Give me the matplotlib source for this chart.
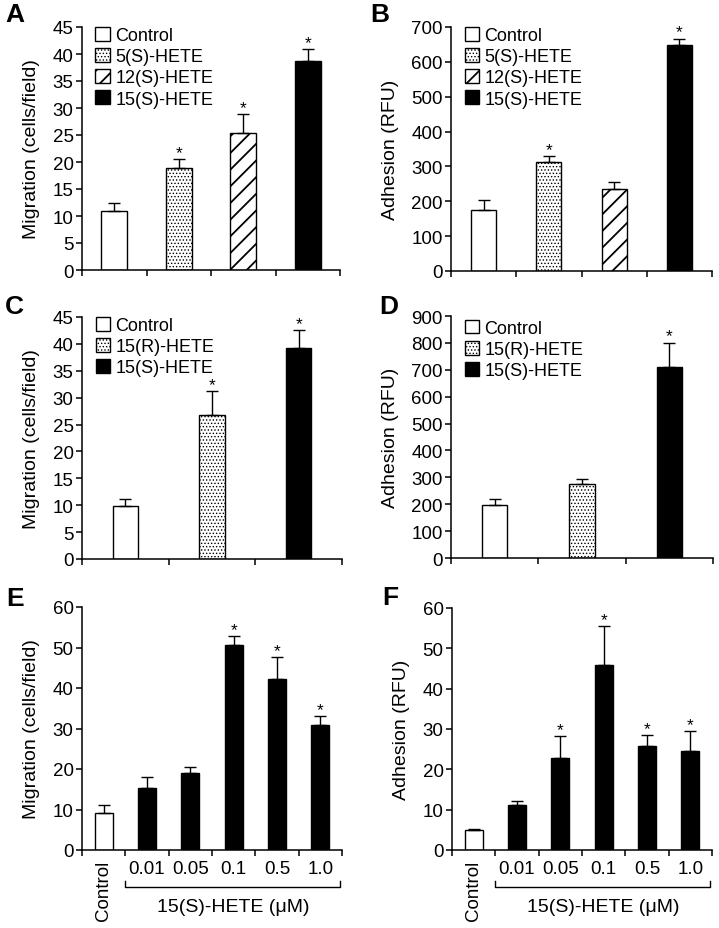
import numpy as np
import matplotlib
matplotlib.use('Agg')
import matplotlib.pyplot as plt
import matplotlib.transforms as mtransforms
from matplotlib.patches import Patch

plt.rcParams['font.family'] = ['Liberation Sans', 'DejaVu Sans']
plt.rcParams['hatch.linewidth'] = 1.0

# panels A / B
ab_labels = ['Control', '5(S)-HETE', '12(S)-HETE', '15(S)-HETE']
a_mig = [10.9, 18.9, 25.4, 38.7]
a_err = [1.45, 1.7, 3.4, 2.2]
a_sig = [False, True, True, True]
b_adh = [175, 313, 234, 649]
b_err = [28, 16, 21, 18]
b_sig = [False, True, False, True]

# panels C / D
cd_labels = ['Control', '15(R)-HETE', '15(S)-HETE']
c_mig = [9.9, 26.7, 39.3]
c_err = [1.3, 4.5, 3.3]
c_sig = [False, True, True]
d_adh = [198, 274, 712]
d_err = [20, 18, 89]
d_sig = [False, False, True]

# panels E / F
doses = ['Control', '0.01', '0.05', '0.1', '0.5', '1.0']
e_mig = [9.1, 15.2, 19.0, 50.6, 42.3, 30.9]
e_err = [1.9, 2.9, 1.5, 2.3, 5.3, 2.2]
e_sig = [False, False, False, True, True, True]
f_adh = [4.9, 11.2, 22.8, 45.9, 25.7, 24.6]
f_err = [0.4, 1.0, 5.4, 9.6, 2.7, 4.9]
f_sig = [False, False, True, True, True, True]

styles = {
    'Control': dict(facecolor='white', hatch=None, hlw=1.0),
    '5(S)-HETE': dict(facecolor='white', hatch='.....', hlw=0.6),
    '15(R)-HETE': dict(facecolor='white', hatch='.....', hlw=0.6),
    '12(S)-HETE': dict(facecolor='white', hatch='//', hlw=1.3),
    '15(S)-HETE': dict(facecolor='black', hatch=None, hlw=1.0),
}

W, H = 719, 929
FS = 13.5


def set_hlw(p, lw):
    # per-patch hatch width where the installed matplotlib supports it
    if hasattr(p, 'set_hatch_linewidth'):
        p.set_hatch_linewidth(lw)


def make_ax(left, top, right, bottom):
    return plt.gcf().add_axes([left / W, 1 - bottom / H, (right - left) / W, (bottom - top) / H])


def style_ax(ax, n, ymax, step, ylabel):
    ax.set_xlim(-0.5, n - 0.5)
    ax.set_ylim(0, ymax)
    ax.set_yticks(np.arange(0, ymax + step / 2, step))
    for s in ['top', 'right']:
        ax.spines[s].set_visible(False)
    for s in ['left', 'bottom']:
        ax.spines[s].set_linewidth(1.1)
    ax.tick_params(axis='y', direction='out', length=4, width=1.1, labelsize=FS, pad=2)
    ax.set_xticks(np.arange(-0.5, n, 1.0))
    ax.set_xticklabels([])
    ax.tick_params(axis='x', direction='out', length=4, width=1.1)
    ax.set_ylabel(ylabel, fontsize=14, labelpad=9)


def draw_bars(ax, vals, errs, sig, width, fills):
    x = np.arange(len(vals))
    for i in range(len(vals)):
        st = fills[i]
        bc = ax.bar(x[i], vals[i], width=width, facecolor=st['facecolor'], edgecolor='black',
                    hatch=st['hatch'], linewidth=1.0, zorder=2)
        for p in bc:
            set_hlw(p, st['hlw'])
    ax.errorbar(x, vals, yerr=[np.zeros(len(vals)), errs], fmt='none', ecolor='black',
                elinewidth=1.0, capsize=4, capthick=1.0, zorder=3)
    for i in range(len(vals)):
        if sig[i]:
            ax.annotate('*', (x[i], vals[i] + errs[i]), xytext=(0, 1.5), textcoords='offset points',
                        ha='center', va='baseline', fontsize=12.5)


def add_legend(ax, names, y0=1.0):
    handles = []
    for n in names:
        p = Patch(facecolor=styles[n]['facecolor'], edgecolor='black', hatch=styles[n]['hatch'],
                  linewidth=1.0, label=n)
        set_hlw(p, styles[n]['hlw'])
        handles.append(p)
    leg = ax.legend(handles=handles, loc='upper left', bbox_to_anchor=(0.052, y0), frameon=False,
                    fontsize=13, handlelength=0.8, handleheight=0.8, handletextpad=0.3,
                    labelspacing=0.22, borderaxespad=0, borderpad=0)
    for p, n in zip(leg.get_patches(), names):
        set_hlw(p, styles[n]['hlw'])


fig = plt.figure(figsize=(W / 100, H / 100), dpi=100)

# A
axA = make_ax(82, 28, 340, 271)
style_ax(axA, 4, 45, 5, 'Migration (cells/field)')
draw_bars(axA, a_mig, a_err, a_sig, 0.4, [styles[n] for n in ab_labels])
add_legend(axA, ab_labels)

# B
axB = make_ax(451, 28, 712, 272)
style_ax(axB, 4, 700, 100, 'Adhesion (RFU)')
draw_bars(axB, b_adh, b_err, b_sig, 0.38, [styles[n] for n in ab_labels])
add_legend(axB, ab_labels)

# C
axC = make_ax(82, 318, 342, 560)
style_ax(axC, 3, 45, 5, 'Migration (cells/field)')
draw_bars(axC, c_mig, c_err, c_sig, 0.29, [styles[n] for n in cd_labels])
add_legend(axC, cd_labels)

# D
axD = make_ax(451, 317, 713, 559)
style_ax(axD, 3, 900, 100, 'Adhesion (RFU)')
draw_bars(axD, d_adh, d_err, d_sig, 0.29, [styles[n] for n in cd_labels])
add_legend(axD, cd_labels, y0=0.985)


def dose_axis(ax):
    n = len(doses)
    ax.set_xticks(np.arange(n), minor=True)
    ax.set_xticklabels(doses, minor=True, fontsize=FS)
    ax.tick_params(axis='x', which='minor', length=0, pad=7)
    lab = ax.get_xticklabels(minor=True)[0]
    lab.set_rotation(90)
    lab.set_va('top')
    tr = mtransforms.blended_transform_factory(ax.transData, ax.transAxes)
    ax.plot([0.5, 0.5, 5.45, 5.45], [-0.128, -0.152, -0.152, -0.128], color='black', lw=1.0,
            transform=tr, clip_on=False)
    ax.text(2.98, -0.232, '15(S)-HETE (\u03bcM)', transform=tr, ha='center', va='center', fontsize=14)


fills_ef = [styles['Control']] + [styles['15(S)-HETE']] * 5

# E
axE = make_ax(82, 608, 342, 851)
style_ax(axE, 6, 60, 10, 'Migration (cells/field)')
draw_bars(axE, e_mig, e_err, e_sig, 0.42, fills_ef)
dose_axis(axE)

# F
axF = make_ax(452, 609, 712, 851)
style_ax(axF, 6, 60, 10, 'Adhesion (RFU)')
draw_bars(axF, f_adh, f_err, f_sig, 0.42, fills_ef)
dose_axis(axF)

# panel letters
for letter, px, py in [('A', 5, 3), ('B', 370, 3), ('C', 5, 295), ('D', 379, 295),
                       ('E', 6, 587), ('F', 382, 586)]:
    fig.text(px / W, 1 - py / H, letter, fontsize=19, fontweight='bold', ha='left', va='top')

fig.savefig('out.png', dpi=100)
